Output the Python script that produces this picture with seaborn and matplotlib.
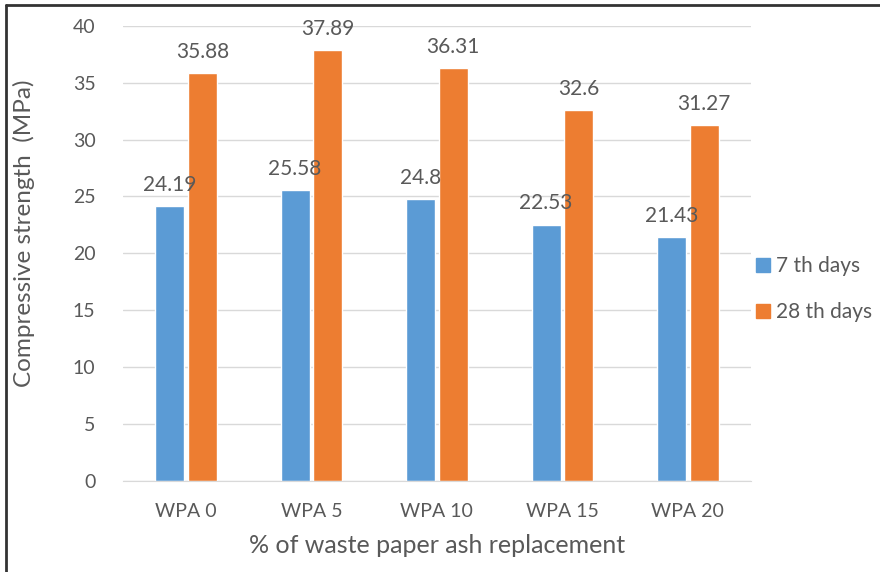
import matplotlib
matplotlib.use("Agg")
import matplotlib.pyplot as plt
import seaborn as sns
import pandas as pd
from matplotlib.lines import Line2D

# dados
categorias = ["WPA 0", "WPA 5", "WPA 10", "WPA 15", "WPA 20"]
dias_7 = [24.19, 25.58, 24.8, 22.53, 21.43]
dias_28 = [35.88, 37.89, 36.31, 32.6, 31.27]
rotulos_7 = ["24.19", "25.58", "24.8", "22.53", "21.43"]
rotulos_28 = ["35.88", "37.89", "36.31", "32.6", "31.27"]
series = ["7 th days", "28 th days"]

AZUL = "#5B9BD5"
LARANJA = "#ED7D31"
CINZA = "#595959"

df = pd.DataFrame({
    "cat": categorias * 2,
    "valor": dias_7 + dias_28,
    "serie": [series[0]] * len(categorias) + [series[1]] * len(categorias),
})

sns.set_style("white")
plt.rcParams["font.family"] = ["Lato", "DejaVu Sans"]

fig = plt.figure(figsize=(8.8, 5.72), dpi=100)
ax = fig.add_axes([0.140, 0.159, 0.713, 0.796])

sns.barplot(data=df, x="cat", y="valor", hue="serie", order=categorias,
            hue_order=series, palette=[AZUL, LARANJA], width=0.52, gap=0.11,
            saturation=1, legend=False, ax=ax)

for cont, rot in zip(ax.containers, [rotulos_7, rotulos_28]):
    ax.bar_label(cont, labels=rot, padding=8, fontsize=15, color=CINZA)

ax.set_ylim(0, 40)
ax.set_yticks(range(0, 41, 5))
ax.set_xlim(-0.5, 4.5)
ax.yaxis.grid(True, color="#d9d9d9", linewidth=1)
ax.set_axisbelow(True)
for s in ["top", "right", "left"]:
    ax.spines[s].set_visible(False)
ax.spines["bottom"].set_color("#d9d9d9")
ax.tick_params(axis="both", length=0, labelsize=14, labelcolor=CINZA)
ax.tick_params(axis="x", pad=16)
ax.tick_params(axis="y", pad=20)

ax.set_xlabel("% of waste paper ash replacement", fontsize=18, color=CINZA, labelpad=10)
ax.set_ylabel("Compressive strength  (MPa)", fontsize=17.5, color=CINZA)
ax.yaxis.set_label_coords(-0.140, 0.545)

handles = [Line2D([], [], marker="s", linestyle="", markersize=10, color=c) for c in [AZUL, LARANJA]]
fig.legend(handles, series, loc="center left", bbox_to_anchor=(0.834, 0.495),
           frameon=False, fontsize=15, labelcolor=CINZA, handletextpad=0.1,
           labelspacing=1.25, handlelength=1.0)

# moldura (esquerda e topo)
fig.add_artist(Line2D([0.007, 0.007], [0, 0.992], transform=fig.transFigure, color="#333333", linewidth=2))
fig.add_artist(Line2D([0.007, 1], [0.992, 0.992], transform=fig.transFigure, color="#333333", linewidth=2))

fig.savefig("out.png", dpi=100)
